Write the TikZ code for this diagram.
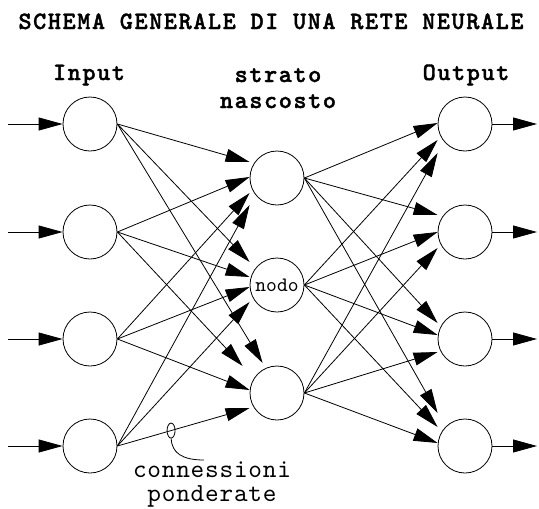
\documentclass[tikz,border=0pt]{standalone}
\usepackage{fontspec}
\newfontfamily\mybold{lmmonolt10-bold.otf}[LetterSpace=6.3,FakeBold=1.5]
\newfontfamily\mymono{lmmono10-regular.otf}
\newfontfamily\mymonols{lmmono10-regular.otf}[LetterSpace=3]
\usetikzlibrary{arrows.meta,calc,shapes.geometric}
\tikzset{
  neuron/.style={circle,draw,line width=0.8pt,minimum size=54pt,inner sep=0pt},
  arr/.style={-{Triangle[length=24pt,width=13pt]},line width=0.8pt},
  boldlabel/.style={anchor=base,inner sep=0pt,font=\mybold\fontsize{25}{30}\selectfont},
  monolabel/.style={anchor=base,inner sep=0pt,font=\mymonols\fontsize{26}{30}\selectfont},
  wmark/.style={ellipse,draw,line width=0.8pt,minimum width=8pt,minimum height=15pt,inner sep=0pt},
}
\begin{document}
\begin{tikzpicture}[x=1pt,y=-1pt]
\useasboundingbox (0,0) rectangle (539,509);
% title and labels
\node[boldlabel] (title) at (271,29) {SCHEMA GENERALE DI UNA RETE NEURALE};
\node[boldlabel] (linput) at (89,80) {Input};
\node[boldlabel] (lstrato) at (278,82) {strato};
\node[boldlabel] (lnascosto) at (278,108) {nascosto};
\node[boldlabel] (loutput) at (466,80) {Output};
% neurons
\node[neuron] (in1) at (90,124) {};
\node[neuron] (in2) at (90,232) {};
\node[neuron] (in3) at (90,339) {};
\node[neuron] (in4) at (90,446) {};
\node[neuron] (h1) at (277,178) {};
\node[neuron,font=\mymono\fontsize{20.5}{24}\selectfont] (h2) at (277,285) {nodo};
\node[neuron] (h3) at (277,393) {};
\node[neuron] (o1) at (465,124) {};
\node[neuron] (o2) at (465,232) {};
\node[neuron] (o3) at (465,339) {};
\node[neuron] (o4) at (465,446) {};
% external arrows
\foreach \k/\y in {1/124,2/232,3/339,4/446}{
  \coordinate (a\k) at (8,\y);
  \coordinate (b\k) at (537,\y);
  \draw[arr] (a\k) -- (in\k.west);
  \draw[arr] (o\k.east) -- (b\k);
}
% weighted connections
\foreach \s/\t/\dx/\dy in {in1/h1/0/-16, in2/h1/0/-1, in3/h1/0/15, in4/h1/0/27,
    in1/h2/0/-23, in2/h2/0/-8, in3/h2/0/2, in4/h2/0/17,
    in1/h3/13/-30, in2/h3/-7/-27, in3/h3/0/-3, in4/h3/0/15,
    h1/o1/0/-1, h2/o1/0/16, h3/o1/0/29,
    h1/o2/0/-17, h2/o2/0/0, h3/o2/0/16,
    h1/o3/0/-16, h2/o3/0/-4, h3/o3/0/13,
    h1/o4/0/-33, h2/o4/0/-19, h3/o4/0/-3}{
  \draw[arr] (\s.east) -- ($(\t.west)+(\dx,\dy)$);
}
% weight mark
\path (in4.east) -- ($(h3.west)+(0,15)$) node[pos=0.406,wmark] (w) {};
\coordinate (c) at (204,460);
\draw[line width=0.8pt] (w.south) .. controls (172,453) and (182,460) .. (c);
\node[monolabel] (lconn) at (212,477) {connessioni};
\node[monolabel] (lpond) at (212,501) {ponderate};
\end{tikzpicture}
\end{document}
